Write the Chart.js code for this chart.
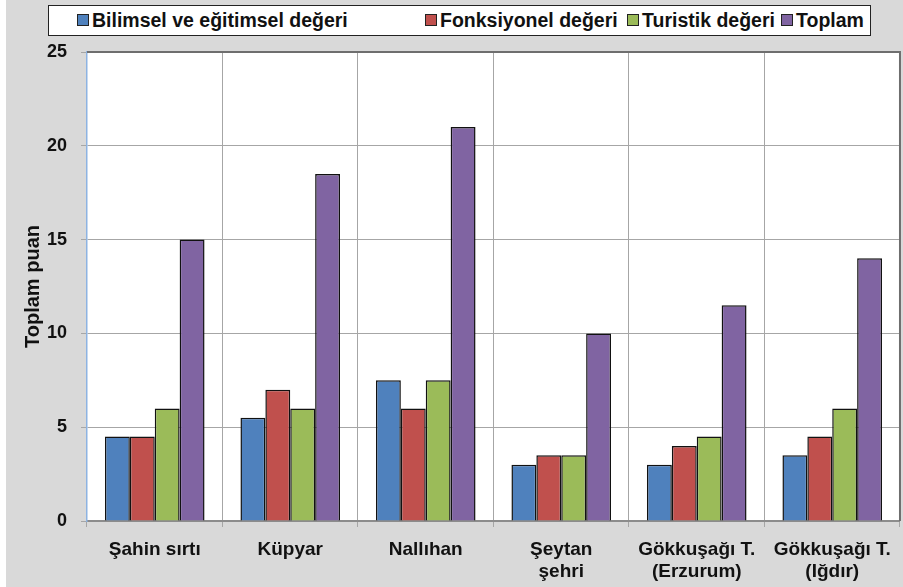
<!DOCTYPE html>
<html>
<head>
<meta charset="utf-8">
<script src="https://cdn.jsdelivr.net/npm/chart.js@4"></script>
<style>
    html, body { margin: 0; padding: 0; background: #fff; }
    #wrap {
        position: relative;
        width: 897px;
        height: 587px;
        border-left: 6px solid #fff;
        background: #d9d9d9;
    }
    #chart { display: block; }
    #legend {
        position: absolute;
        left: 42px; top: 5px;
        width: 821px; height: 29px;
        background: #fff;
        border: 1.5px solid #222;
        font: bold 19.5px "Liberation Sans", Arial, sans-serif;
        color: #111;
    }
    .item { position: absolute; top: 3px; white-space: nowrap; }
    .box {
        display: inline-block;
        width: 10px; height: 10px;
        border: 1.5px solid #222;
        margin-right: 3px;
        vertical-align: 1px;
    }
</style>
</head>
<body>
<div id="wrap">
    <canvas id="chart" width="897" height="587"></canvas>
    <div id="legend"></div>
</div>
<script>
// Data
const categories = [
    'Şahin sırtı',
    'Küpyar',
    'Nallıhan',
    ['Şeytan', 'şehri'],
    ['Gökkuşağı T.', '(Erzurum)'],
    ['Gökkuşağı T.', '(Iğdır)']
];
const seriesNames = ['Bilimsel ve eğitimsel değeri', 'Fonksiyonel değeri', 'Turistik değeri', 'Toplam'];
const bilimsel = [4.5, 5.5, 7.5, 3, 3, 3.5];
const fonksiyonel = [4.5, 7, 6, 3.5, 4, 4.5];
const turistik = [6, 6, 7.5, 3.5, 4.5, 6];
const toplam = [15, 18.5, 21, 10, 11.5, 14];
const yTicks = [0, 5, 10, 15, 20, 25];

const colors = ['#4f81bd', '#c0504d', '#9bbb59', '#8064a2'];
const legendLeft = [28, 376, 578, 732]; // px inside the legend box

// HTML legend (item spacing in the original is irregular)
const legend = document.getElementById('legend');
seriesNames.forEach((name, i) => {
    const span = document.createElement('span');
    span.className = 'item';
    span.style.left = legendLeft[i] + 'px';
    span.innerHTML = `<span class="box" style="background:${colors[i]}"></span>${name}`;
    legend.appendChild(span);
});

// Plot area background and top/right frame
const plotFrame = {
    id: 'plotFrame',
    beforeDraw(chart) {
        const { ctx, chartArea: a } = chart;
        ctx.save();
        ctx.fillStyle = '#fff';
        ctx.fillRect(a.left, a.top, a.right - a.left, a.bottom - a.top);
        ctx.restore();
    },
    afterDraw(chart) {
        const { ctx, chartArea: a } = chart;
        ctx.save();
        ctx.strokeStyle = '#6e6e6e';
        ctx.lineWidth = 2;
        ctx.beginPath();
        ctx.moveTo(a.left, a.top);
        ctx.lineTo(a.right, a.top);
        ctx.lineTo(a.right, a.bottom);
        ctx.stroke();
        ctx.restore();
    }
};

const seriesData = [bilimsel, fonksiyonel, turistik, toplam];

new Chart(document.getElementById('chart'), {
    type: 'bar',
    data: {
        labels: categories,
        datasets: seriesNames.map((name, i) => ({
            label: name,
            data: seriesData[i],
            backgroundColor: colors[i],
            borderColor: '#111',
            borderWidth: 1.5,
            categoryPercentage: 0.735,
            barPercentage: 1
        }))
    },
    options: {
        responsive: false,
        animation: false,
        layout: { padding: { top: 52, right: 2 } },
        plugins: {
            legend: { display: false },
            tooltip: { enabled: false }
        },
        scales: {
            x: {
                afterFit: s => { s.height = 66; },
                grid: { color: '#a6a6a6', tickLength: 6, offset: true },
                border: { color: '#8c8c8c', width: 2 },
                ticks: {
                    color: '#111',
                    padding: 12,
                    maxRotation: 0,
                    font: { family: 'Liberation Sans', size: 19, weight: 'bold', lineHeight: 1.15 }
                }
            },
            y: {
                min: 0,
                max: 25,
                afterFit: s => { s.width = 81; },
                afterBuildTicks: s => { s.ticks = yTicks.map(v => ({ value: v })); },
                grid: { color: '#a6a6a6', tickLength: 6 },
                border: { color: '#8db3e2', width: 1.5 },
                ticks: {
                    color: '#111',
                    padding: 14,
                    font: { family: 'Liberation Sans', size: 18, weight: 'bold' }
                },
                title: {
                    display: true,
                    text: 'Toplam puan',
                    color: '#111',
                    padding: { top: 15, bottom: 0 },
                    font: { family: 'Liberation Sans', size: 20, weight: 'bold' }
                }
            }
        }
    },
    plugins: [plotFrame]
});
</script>
</body>
</html>
